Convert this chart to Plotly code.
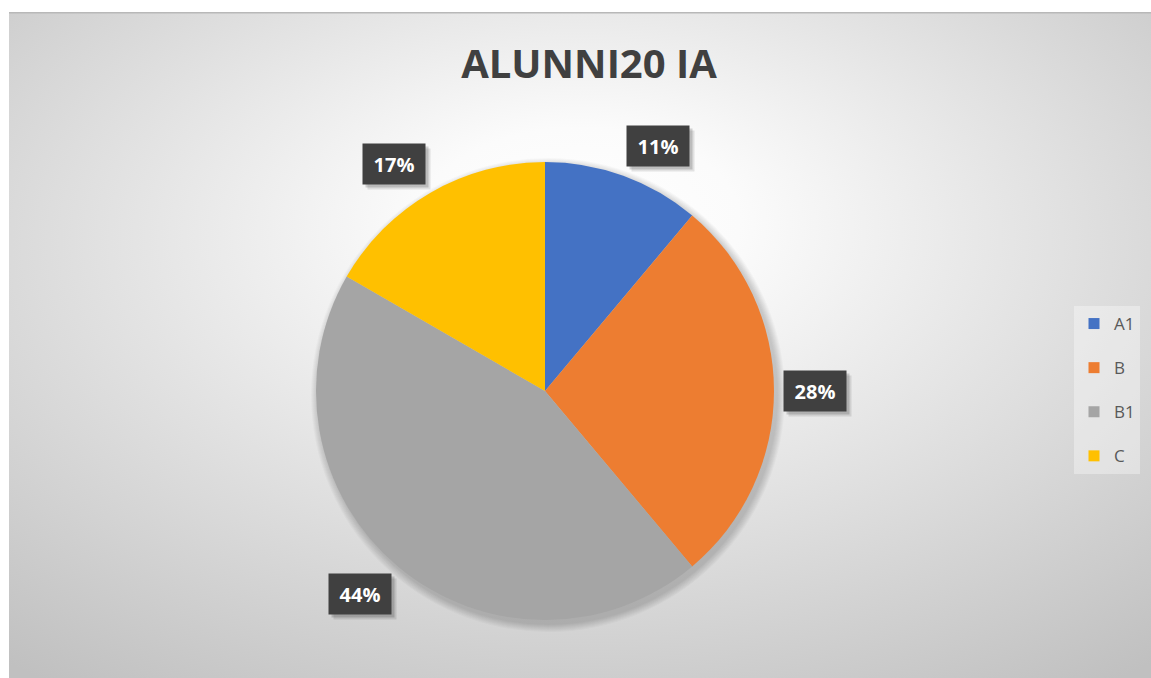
import math
import base64
import plotly.graph_objects as go

# ---- data ----
categories = ["A1", "B", "B1", "C"]
counts = [2, 5, 8, 3]
slice_colors = ["#4472C4", "#ED7D31", "#A5A5A5", "#FFC000"]
chart_title = "ALUNNI20 IA"

# ---- layout geometry ----
W, H = 1151, 678
CX, CY, R = 545, 391, 229          # pie centre / radius in px
BG_X0, BG_Y0 = 9, 12               # chart area top-left in px

fig = go.Figure()

fig.add_trace(go.Pie(
    labels=categories, values=counts, sort=False, direction="clockwise", rotation=0,
    marker=dict(colors=slice_colors, line=dict(color="white", width=0)),
    textinfo="none", showlegend=False, hoverinfo="label+percent",
    domain=dict(x=[(CX - R) / W, (CX + R) / W], y=[1 - (CY + R) / H, 1 - (CY - R) / H]),
))

# legend entries (one group each so the spacing can be set)
for name, col in zip(categories, slice_colors):
    fig.add_trace(go.Scatter(
        x=[None], y=[None], mode="markers", name=name, legendgroup=name,
        marker=dict(symbol="square", size=11, color=col), hoverinfo="skip",
    ))

# outside-end data labels computed from the values
total = sum(counts)
box_w, box_h, gap = 62, 40, 10


def sgn(t):
    return 0 if abs(t) < 0.08 else (1 if t > 0 else -1)


annotations = []
labels_ann = []
cum = 0
for v in counts:
    mid = (cum + v / 2) / total
    cum += v
    th = 2 * math.pi * mid
    s, c = math.sin(th), math.cos(th)
    xp = CX + (R + gap) * s + (box_w / 2) * sgn(s)
    yp = CY - (R + gap) * c - (box_h / 2) * sgn(c)
    txt = f"{round(100 * v / total)}%"
    for off, alpha in ((5, 0.10), (3, 0.16)):
        annotations.append(dict(
            x=(xp + off) / W, y=1 - (yp + off) / H, xref="paper", yref="paper",
            xanchor="center", yanchor="middle",
            text=" ", showarrow=False, width=box_w, height=box_h, borderpad=0,
            bgcolor=f"rgba(0,0,0,{alpha})",
            font=dict(family="Open Sans", size=20, color="rgba(0,0,0,0)"),
        ))
    labels_ann.append(dict(
        x=xp / W, y=1 - yp / H, xref="paper", yref="paper",
        xanchor="center", yanchor="middle",
        text=txt, showarrow=False, width=box_w, height=box_h, borderpad=0,
        bgcolor="#404040",
        font=dict(family="Open Sans", size=20, color="white", weight=700),
    ))
annotations += labels_ann

# soft shadow under the pie
shapes = []
for k in range(8, 0, -1):
    rr = R + k
    ox, oy = 3, 4
    shapes.append(dict(
        type="circle", xref="paper", yref="paper", layer="below",
        x0=(CX + ox - rr) / W, x1=(CX + ox + rr) / W,
        y0=1 - (CY + oy + rr) / H, y1=1 - (CY + oy - rr) / H,
        fillcolor="rgba(0,0,0,0.025)", line=dict(width=0),
    ))

# radial gradient background
bw, bh = W - BG_X0, H - BG_Y0
svg = f'''<svg xmlns="http://www.w3.org/2000/svg" width="{bw}" height="{bh}" viewBox="0 0 {bw} {bh}">
<defs><radialGradient id="g" cx="50%" cy="38%" r="78%" fx="50%" fy="30%">
<stop offset="0%" stop-color="#ffffff"/><stop offset="18%" stop-color="#fbfbfb"/>
<stop offset="100%" stop-color="#c0c0c0"/></radialGradient></defs>
<rect width="{bw}" height="{bh}" fill="url(#g)"/>
<rect width="{bw}" height="1.5" fill="#b8b8b8"/>
</svg>'''
src = "data:image/svg+xml;base64," + base64.b64encode(svg.encode()).decode()

fig.update_layout(
    width=W, height=H, margin=dict(l=0, r=0, t=0, b=0),
    paper_bgcolor="white", plot_bgcolor="rgba(0,0,0,0)",
    xaxis=dict(visible=False), yaxis=dict(visible=False),
    images=[dict(source=src, xref="paper", yref="paper", x=BG_X0 / W, y=1 - BG_Y0 / H,
                 sizex=bw / W, sizey=bh / H, xanchor="left", yanchor="top",
                 sizing="stretch", layer="below")],
    shapes=shapes,
    title=dict(text=chart_title, x=589 / W, y=1 - 64 / H, xanchor="center", yanchor="middle",
               font=dict(family="Open Sans", size=40, color="#404040", weight=700)),
    legend=dict(x=1074 / W, xanchor="left", y=1 - 306 / H, yanchor="top",
                font=dict(family="Open Sans", size=17, color="#595959"),
                tracegroupgap=19, bgcolor="rgba(255,255,255,0.35)", borderwidth=0),
    annotations=annotations,
    showlegend=True,
)

fig.write_html("out.html", config={"displayModeBar": False},
               post_script="document.body.style.margin='0';")
